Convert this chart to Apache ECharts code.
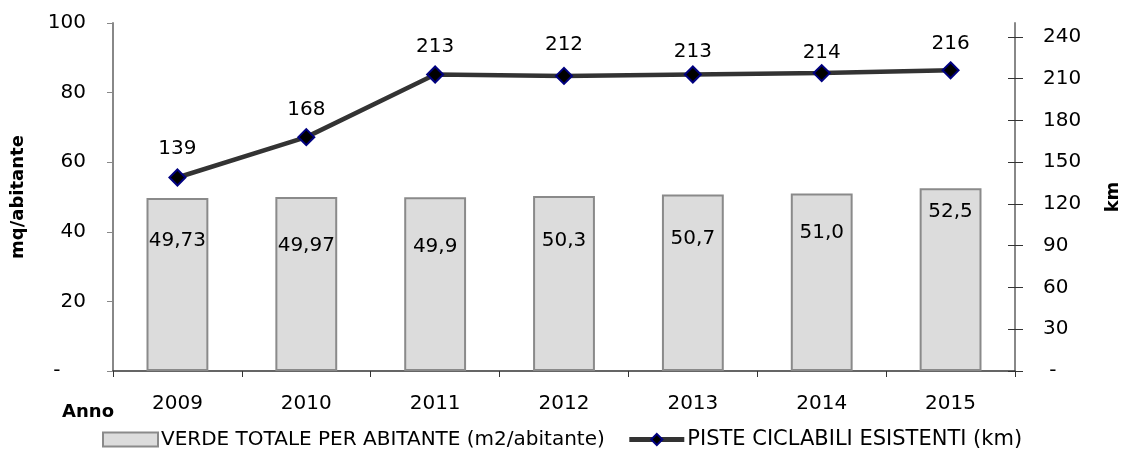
<!DOCTYPE html>
<html>
<head>
<meta charset="utf-8">
<script src="https://cdn.jsdelivr.net/npm/echarts@6/dist/echarts.min.js"></script>
<style>
  html, body { margin: 0; padding: 0; background: #fff; }
  #main { width: 1123px; height: 472px; }
</style>
</head>
<body>
<div id="main"></div>
<script>
// data
const anni = ["2009", "2010", "2011", "2012", "2013", "2014", "2015"];
const verde = [49.73, 49.97, 49.9, 50.3, 50.7, 51.0, 52.5];
const verdeDecimals = [2, 2, 1, 1, 1, 1, 1];
const piste = [139, 168, 213, 212, 213, 214, 216];
const kmTicks = [0, 30, 60, 90, 120, 150, 180, 210, 240];

// label placement (as in the original excel chart)
const verdeLabelDist = [33, 39, 39, 35, 34, 29, 13];
const pisteLabelDist = [10, 8, 9, 12, 4, 1, 8];

const FONT = "DejaVu Sans";
const FS = 20;

var chartDom = document.getElementById("main");
var myChart = echarts.init(chartDom);

const barData = verde.map((v, i) => ({
  value: v,
  label: { distance: verdeLabelDist[i] },
}));
const lineData = piste.map((v, i) => ({
  value: v,
  label: { distance: pisteLabelDist[i] },
}));

var option = {
  backgroundColor: "#ffffff",
  animation: false,
  textStyle: { fontFamily: FONT, color: "#000" },
  grid: { left: 113, right: 108, top: 23, bottom: 101, containLabel: false, outerBoundsMode: "none" },
  legend: {
    left: 97,
    top: 424,
    itemGap: 22,
    itemWidth: 55,
    itemHeight: 14,
    textStyle: { fontFamily: FONT, fontSize: FS, color: "#000", padding: [0, 0, 0, -2] },
    data: [
      { name: "VERDE TOTALE PER ABITANTE (m2/abitante)", icon: "rect" },
      {
        name: "PISTE CICLABILI ESISTENTI (km)",
        lineStyle: { width: 5 },
        textStyle: { fontSize: 21 },
      },
    ],
  },
  xAxis: {
    type: "category",
    data: anni,
    name: "Anno",
    nameLocation: "start",
    nameGap: -1,
    nameTextStyle: {
      fontFamily: FONT,
      fontSize: 18,
      fontWeight: "bold",
      align: "right",
      verticalAlign: "top",
      padding: [32, 0, 0, 0],
    },
    axisLine: { lineStyle: { color: "#333", width: 1.5 } },
    axisTick: { show: true, alignWithLabel: false, length: 6, lineStyle: { color: "#333" } },
    axisLabel: { fontFamily: FONT, fontSize: FS, color: "#000", margin: 23 },
  },
  yAxis: [
    {
      type: "value",
      min: 0,
      max: 100,
      interval: 20,
      name: "mq/abitante",
      nameLocation: "middle",
      nameRotate: 90,
      nameGap: 86,
      nameTextStyle: { fontFamily: FONT, fontSize: 18, fontWeight: "bold", color: "#000" },
      axisLine: { show: true, lineStyle: { color: "#888", width: 2 } },
      axisTick: { show: true, length: 6, lineStyle: { color: "#888" } },
      splitLine: { show: false },
      axisLabel: {
        fontFamily: FONT,
        fontSize: FS,
        color: "#000",
        margin: 27,
        formatter: (v) => (v === 0 ? "-    " : String(v)),
      },
    },
    {
      type: "value",
      min: 0,
      max: 250,
      position: "right",
      name: "km",
      nameLocation: "middle",
      nameRotate: 90,
      nameGap: 89,
      nameTextStyle: { fontFamily: FONT, fontSize: 18, fontWeight: "bold", color: "#000" },
      axisLine: { show: true, lineStyle: { color: "#888", width: 2 } },
      axisTick: { show: true, length: 8, customValues: kmTicks, lineStyle: { color: "#333" } },
      splitLine: { show: false },
      axisLabel: {
        fontFamily: FONT,
        fontSize: FS,
        color: "#000",
        margin: 28,
        customValues: kmTicks,
        formatter: (v) => (v === 0 ? " -" : String(v)),
      },
    },
    {
      // inner half of the crossing ticks on the km axis
      type: "value",
      min: 0,
      max: 250,
      position: "right",
      axisLine: { show: false },
      axisTick: { show: true, inside: true, length: 7, customValues: kmTicks, lineStyle: { color: "#333" } },
      axisLabel: { show: false },
      splitLine: { show: false },
    },
  ],
  series: [
    {
      name: "VERDE TOTALE PER ABITANTE (m2/abitante)",
      type: "bar",
      data: barData,
      yAxisIndex: 0,
      barWidth: "48%",
      itemStyle: { color: "#dcdcdc", borderColor: "#8a8a8a", borderWidth: 2 },
      label: {
        show: true,
        position: "insideTop",
        fontFamily: FONT,
        fontSize: FS,
        color: "#000",
        formatter: (p) =>
          p.value.toFixed(verdeDecimals[p.dataIndex]).replace(".", ","),
      },
    },
    {
      name: "PISTE CICLABILI ESISTENTI (km)",
      type: "line",
      data: lineData,
      yAxisIndex: 1,
      symbol: "diamond",
      symbolSize: 16,
      lineStyle: { color: "#333333", width: 4.5 },
      itemStyle: { color: "#000000", borderColor: "#000080", borderWidth: 2 },
      label: {
        show: true,
        position: "top",
        fontFamily: FONT,
        fontSize: FS,
        color: "#000",
      },
      z: 3,
    },
  ],
};

option && myChart.setOption(option);
</script>
</body>
</html>
